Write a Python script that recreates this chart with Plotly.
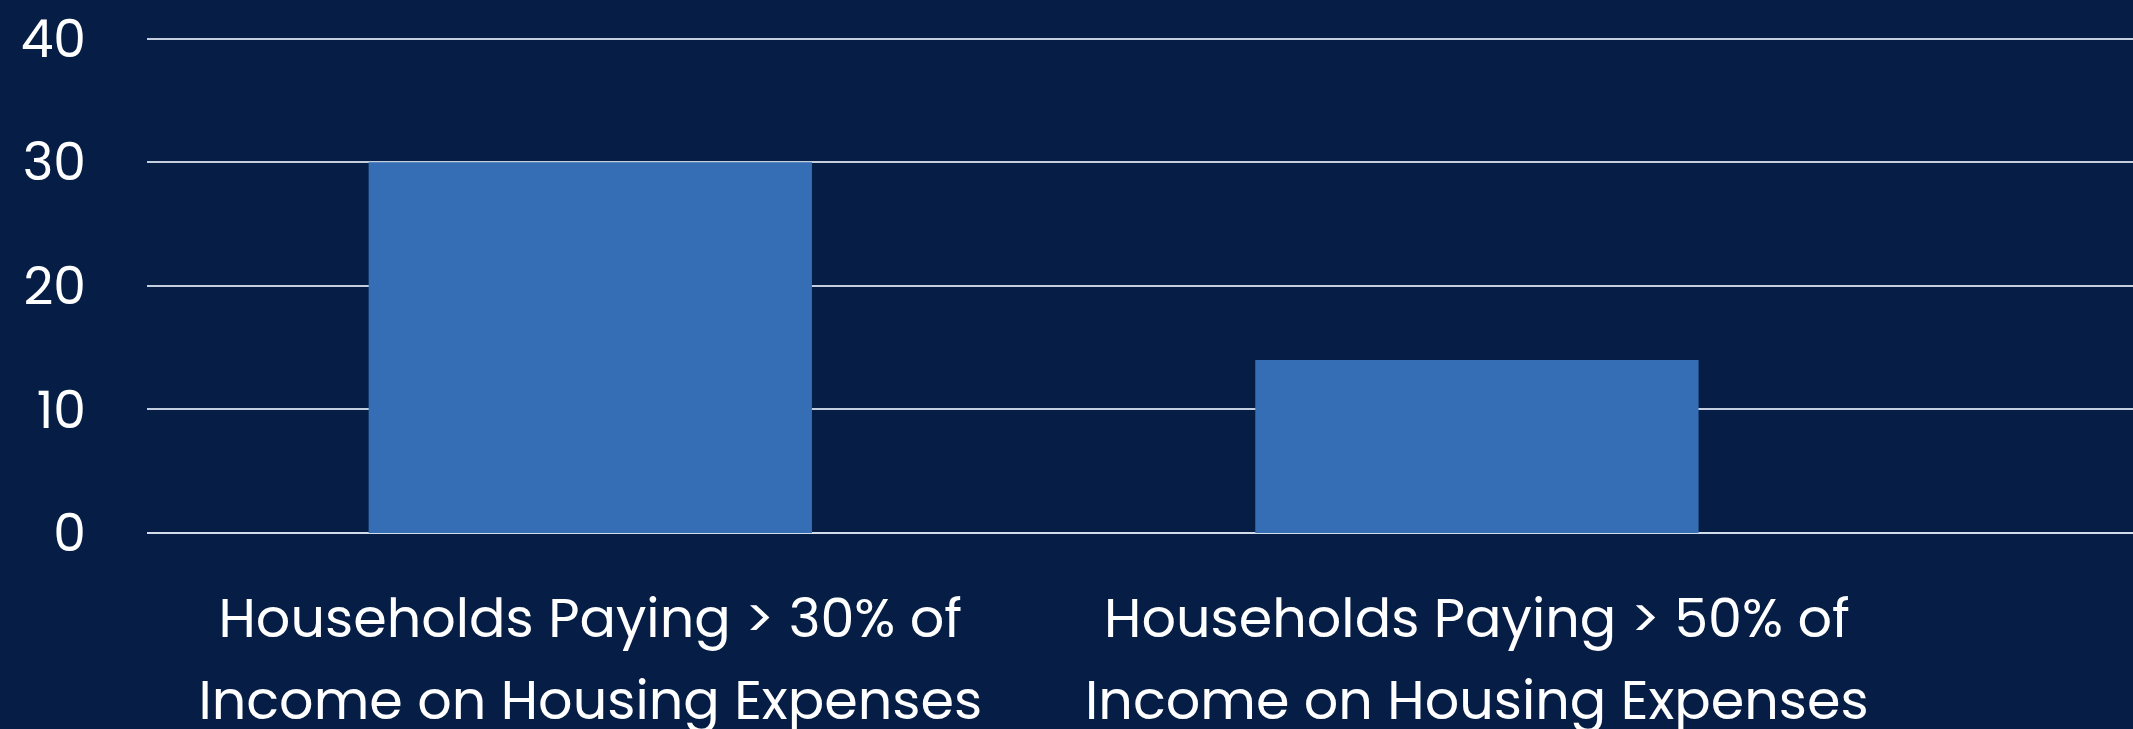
import plotly.graph_objects as go

# categories and values
LINE_1 = ["Households Paying > 30% of", "Households Paying > 50% of"]
LINE_2 = ["Income on Housing Expenses", "Income on Housing Expenses"]
VALUES = [30, 14]
Y_TICKS = [0, 10, 20, 30, 40]

BG = "#061E45"
BAR_COLOR = "#356EB5"
GRID_COLOR = "#C3CEDF"
FONT = "Poppins, Open Sans, sans-serif"

# two-line labels, text size kept smaller than the axis font so lines sit further apart
categories = [
    f'<span style="font-size:54px">{a}</span><br><span style="font-size:54px">{b}</span>'
    for a, b in zip(LINE_1, LINE_2)
]

fig = go.Figure(
    go.Bar(
        x=categories,
        y=VALUES,
        width=0.5,
        marker=dict(color=BAR_COLOR, line=dict(width=0)),
        hoverinfo="y",
    )
)

fig.update_layout(
    width=2133,
    height=729,
    margin=dict(l=147, r=0, t=35, b=196),
    paper_bgcolor=BG,
    plot_bgcolor=BG,
    font=dict(family=FONT, color="white", size=54),
    showlegend=False,
)

fig.update_xaxes(
    type="category",
    range=[-0.5, 1.74],
    showgrid=False,
    showline=False,
    ticks="",
    tickfont=dict(size=63, color="white"),
    ticklabelstandoff=40,
    automargin=False,
)

fig.update_yaxes(
    range=[0, 40.3],
    tickvals=Y_TICKS,
    showgrid=True,
    gridcolor=GRID_COLOR,
    gridwidth=2,
    zeroline=True,
    zerolinecolor="#D3DCEA",
    zerolinewidth=2,
    showline=False,
    ticks="",
    tickfont=dict(size=52, color="white"),
    ticklabelstandoff=60,
    automargin=False,
)

fig.write_html(
    "out.html",
    config={"displayModeBar": False},
    post_script="document.body.style.margin='0';",
)
